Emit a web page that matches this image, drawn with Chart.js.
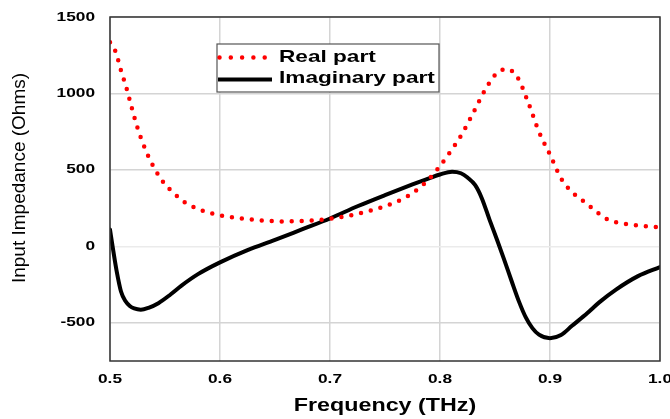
<!DOCTYPE html>
<html><head><meta charset="utf-8">
<script src="https://cdn.jsdelivr.net/npm/chart.js@4.4.1/dist/chart.umd.min.js"></script>
<style>html,body{margin:0;padding:0;background:#fff;overflow:hidden}#wrap{width:670px;height:419px;overflow:hidden}</style>
</head><body><div id="wrap"><canvas id="c" width="670" height="419"></canvas></div>
<script>
const xReal=[0.500,0.505,0.510,0.515,0.520,0.525,0.530,0.535,0.540,0.545,0.550,0.557,0.565,0.572,0.580,0.590,0.600,0.620,0.640,0.660,0.680,0.700,0.720,0.740,0.760,0.770,0.780,0.790,0.800,0.810,0.820,0.830,0.840,0.850,0.860,0.870,0.880,0.890,0.900,0.910,0.920,0.930,0.940,0.950,0.960,0.970,0.980,0.990,1.000];
const yReal=[1335,1275,1150,1035,900,775,672,587,515,455,405,355,302,272,245,220,203,182,168,163,168,180,205,240,290,325,375,440,525,625,735,870,1010,1120,1160,1110,945,748,600,445,355,298,240,185,158,145,136,130,125];
const xImag=[0.500,0.503,0.506,0.510,0.514,0.518,0.522,0.528,0.535,0.544,0.555,0.565,0.580,0.600,0.625,0.650,0.675,0.700,0.725,0.750,0.775,0.790,0.800,0.811,0.819,0.825,0.832,0.838,0.845,0.852,0.858,0.865,0.872,0.878,0.884,0.890,0.900,0.910,0.920,0.934,0.945,0.960,0.980,1.000];
const yImag=[110,-30,-160,-295,-358,-390,-406,-414,-402,-372,-315,-257,-182,-105,-25,42,112,182,262,335,405,445,470,488,478,450,400,315,175,40,-80,-225,-365,-465,-535,-578,-601,-580,-520,-436,-365,-283,-195,-135];
const xTicks=[0.5,0.6,0.7,0.8,0.9,1.0];
const yTicks=[-500,0,500,1000,1500];
const seriesLabels=['Real part','Imaginary part'];
const xTitle='Frequency (THz)';
const yTitle='Input Impedance (Ohms)';

const FONT='"Liberation Sans", Arial, Helvetica, sans-serif';
const SX=1.33;
const canvas=document.getElementById('c');
const ctx=canvas.getContext('2d');
const origFill=ctx.fillText;
ctx.fillText=function(t,x,y,mw){
  const m=this.getTransform();
  if(Math.abs(m.b)<1e-6&&Math.abs(m.c)<1e-6){
    this.save();this.translate(x,y);this.scale(SX,1);
    if(mw===undefined)origFill.call(this,t,0,0);else origFill.call(this,t,0,0,mw/SX);
    this.restore();
  }else{
    if(mw===undefined)origFill.call(this,t,x,y);else origFill.call(this,t,x,y,mw);
  }
};

const deco={id:'deco',
  afterDraw(chart){
    const c=chart.ctx,a=chart.chartArea;
    c.save();
    c.strokeStyle='#333';c.lineWidth=1.5;
    c.strokeRect(a.left,a.top,a.right-a.left,a.bottom-a.top);
    c.restore();
    c.save();
    c.translate(19.5,178);c.rotate(-Math.PI/2);
    c.font='19px '+FONT;c.fillStyle='#000';c.textAlign='center';c.textBaseline='middle';
    c.fillText(yTitle,0,0);
    c.restore();
    const ds=chart.data.datasets;
    const real=ds.find(d=>d.label===seriesLabels[0]);
    const imag=ds.find(d=>d.label===seriesLabels[1]);
    c.save();
    c.fillStyle='#fff';c.fillRect(217,44,222,48);
    c.strokeStyle='#555';c.lineWidth=1.2;c.strokeRect(217,44,222,48);
    c.lineCap='round';
    c.strokeStyle=real.borderColor;c.lineWidth=4.5;c.setLineDash([0,11.3]);
    c.beginPath();c.moveTo(219.5,57.5);c.lineTo(266,57.5);c.stroke();
    c.setLineDash([]);c.lineCap='butt';
    c.strokeStyle=imag.borderColor;c.lineWidth=4;
    c.beginPath();c.moveTo(218,79.5);c.lineTo(272,79.5);c.stroke();
    c.font='bold 17px '+FONT;c.fillStyle='#000';c.textAlign='left';c.textBaseline='middle';
    c.fillText(real.label,279,57.5);
    c.fillText(imag.label,279,78.5);
    c.restore();
  }
};

new Chart(ctx,{
  type:'line',
  data:{datasets:[
    {label:seriesLabels[1],data:xImag.map((x,i)=>({x:x,y:yImag[i]})),borderColor:'#000000',borderWidth:4,pointRadius:0,cubicInterpolationMode:'monotone',borderJoinStyle:'round',borderCapStyle:'round',fill:false,order:2},
    {label:seriesLabels[0],data:xReal.map((x,i)=>({x:x,y:yReal[i]})),borderColor:'#ff0000',borderWidth:4.5,borderDash:[0,10],borderCapStyle:'round',pointRadius:0,cubicInterpolationMode:'monotone',fill:false,order:1}
  ]},
  options:{
    responsive:false,animation:false,events:[],
    layout:{padding:{top:17,right:10,left:0,bottom:0}},
    plugins:{legend:{display:false},tooltip:{enabled:false}},
    scales:{
      x:{type:'linear',min:0.5,max:1.0,
        afterBuildTicks(s){s.ticks=xTicks.map(v=>({value:v}));},
        afterFit(s){s.height=58;s.paddingRight=0;s.paddingLeft=0;},
        ticks:{callback:v=>Number(v).toFixed(1),font:{family:FONT,size:13,weight:'bold'},color:'#000',padding:11,maxRotation:0,autoSkip:false},
        grid:{color:'#d4d4d4',lineWidth:1.5,drawTicks:false},
        border:{display:false},
        title:{display:true,text:xTitle,font:{family:FONT,size:17.5,weight:'bold'},color:'#000',padding:{top:0,bottom:2}}
      },
      y:{type:'linear',min:-750,max:1500,
        afterBuildTicks(s){s.ticks=yTicks.map(v=>({value:v}));},
        afterFit(s){s.width=110;s.paddingTop=0;s.paddingBottom=0;},
        ticks:{callback:v=>String(v),font:{family:FONT,size:13,weight:'bold'},color:'#000',padding:15},
        grid:{color:c=>(c.tick&&c.tick.value===0)?'#ebebeb':'#d4d4d4',lineWidth:1.5,drawTicks:false},
        border:{display:false}
      }
    }
  },
  plugins:[deco]
});
</script></body></html>
